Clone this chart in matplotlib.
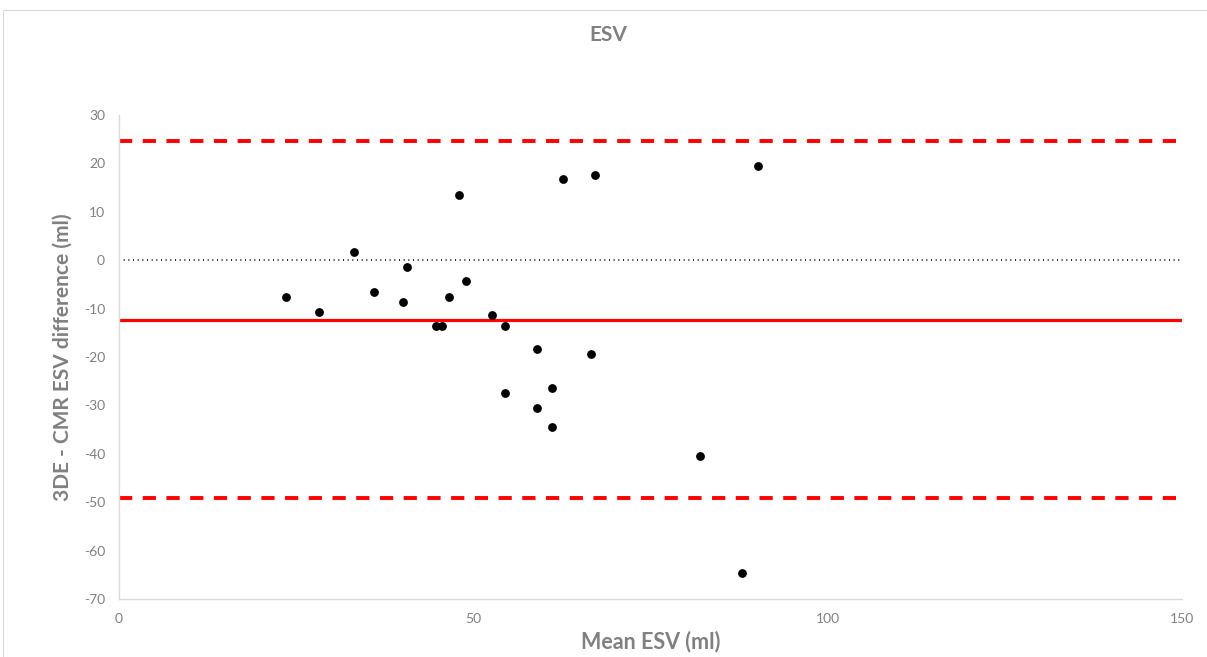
import matplotlib
matplotlib.use("Agg")
import matplotlib.pyplot as plt
from matplotlib.patches import Rectangle

# Data
mean_esv = [23.6, 28.2, 33.1, 36.0, 40.1, 40.6, 44.7, 45.6, 46.6, 48.0, 49.0, 52.6,
            54.5, 54.5, 59.0, 59.0, 61.1, 61.1, 62.6, 66.6, 67.2, 82.0, 87.9, 90.1]
diff_esv = [-7.5, -10.7, 1.6, -6.5, -8.6, -1.5, -13.5, -13.5, -7.5, 13.5, -4.4, -11.4,
            -13.5, -27.5, -18.4, -30.6, -26.5, -34.5, 16.7, -19.4, 17.7, -40.5, -64.7, 19.5]
bias = -12.3
upper_loa = 24.6
lower_loa = -49.1
zero_line = 0

x_ticks = [0, 50, 100, 150]
y_ticks = [30, 20, 10, 0, -10, -20, -30, -40, -50, -60, -70]

title = "ESV"
x_label = "Mean ESV (ml)"
y_label = "3DE - CMR ESV difference (ml)"

plt.rcParams['font.family'] = ['Lato', 'DejaVu Sans']
plt.rcParams['axes.unicode_minus'] = False

W, H = 1207, 657
fig = plt.figure(figsize=(W / 100, H / 100), dpi=100)
fig.patch.set_facecolor("white")

# chart border
fig.patches.append(Rectangle((3 / W, -0.05), 1.2, 1 - 10 / H + 0.05,
                             transform=fig.transFigure, fill=False,
                             edgecolor="#d9d9d9", linewidth=0.8))

ax = fig.add_axes([119 / W, 1 - 599 / H, (1182 - 119) / W, (599 - 115) / H])
ax.set_xlim(0, 150)
ax.set_ylim(-70, 30)

gray = "#808080"
red = "#ff0000"

dash = (0, (3.4, 2.7))
ax.axhline(upper_loa, color=red, linewidth=2.8, linestyle=dash)
ax.axhline(lower_loa, color=red, linewidth=2.8, linestyle=dash)
ax.axhline(bias, color=red, linewidth=2.3, linestyle="-")
ax.axhline(zero_line, color="black", linewidth=1.2, linestyle=(0, (0.6, 2.2)))

ax.scatter(mean_esv, diff_esv, s=40, color="black", zorder=5, linewidths=0)

ax.set_xticks(x_ticks)
ax.set_yticks(y_ticks)
ax.tick_params(axis="both", length=0, colors=gray, labelsize=10, pad=10)
for lab in ax.get_xticklabels() + ax.get_yticklabels():
    lab.set_color(gray)

for side in ["top", "right"]:
    ax.spines[side].set_visible(False)
for side in ["left", "bottom"]:
    ax.spines[side].set_color("#d9d9d9")
    ax.spines[side].set_linewidth(1.0)

ax.set_xlabel(x_label, fontsize=15.5, fontweight="bold", color=gray, labelpad=4)
ax.set_ylabel(y_label, fontsize=15, fontweight="bold", color=gray, labelpad=8)

fig.text(608 / W, 1 - 35 / H, title, ha="center", va="center",
         fontsize=15, fontweight="bold", color=gray)

fig.savefig("out.png", dpi=100, facecolor="white")
